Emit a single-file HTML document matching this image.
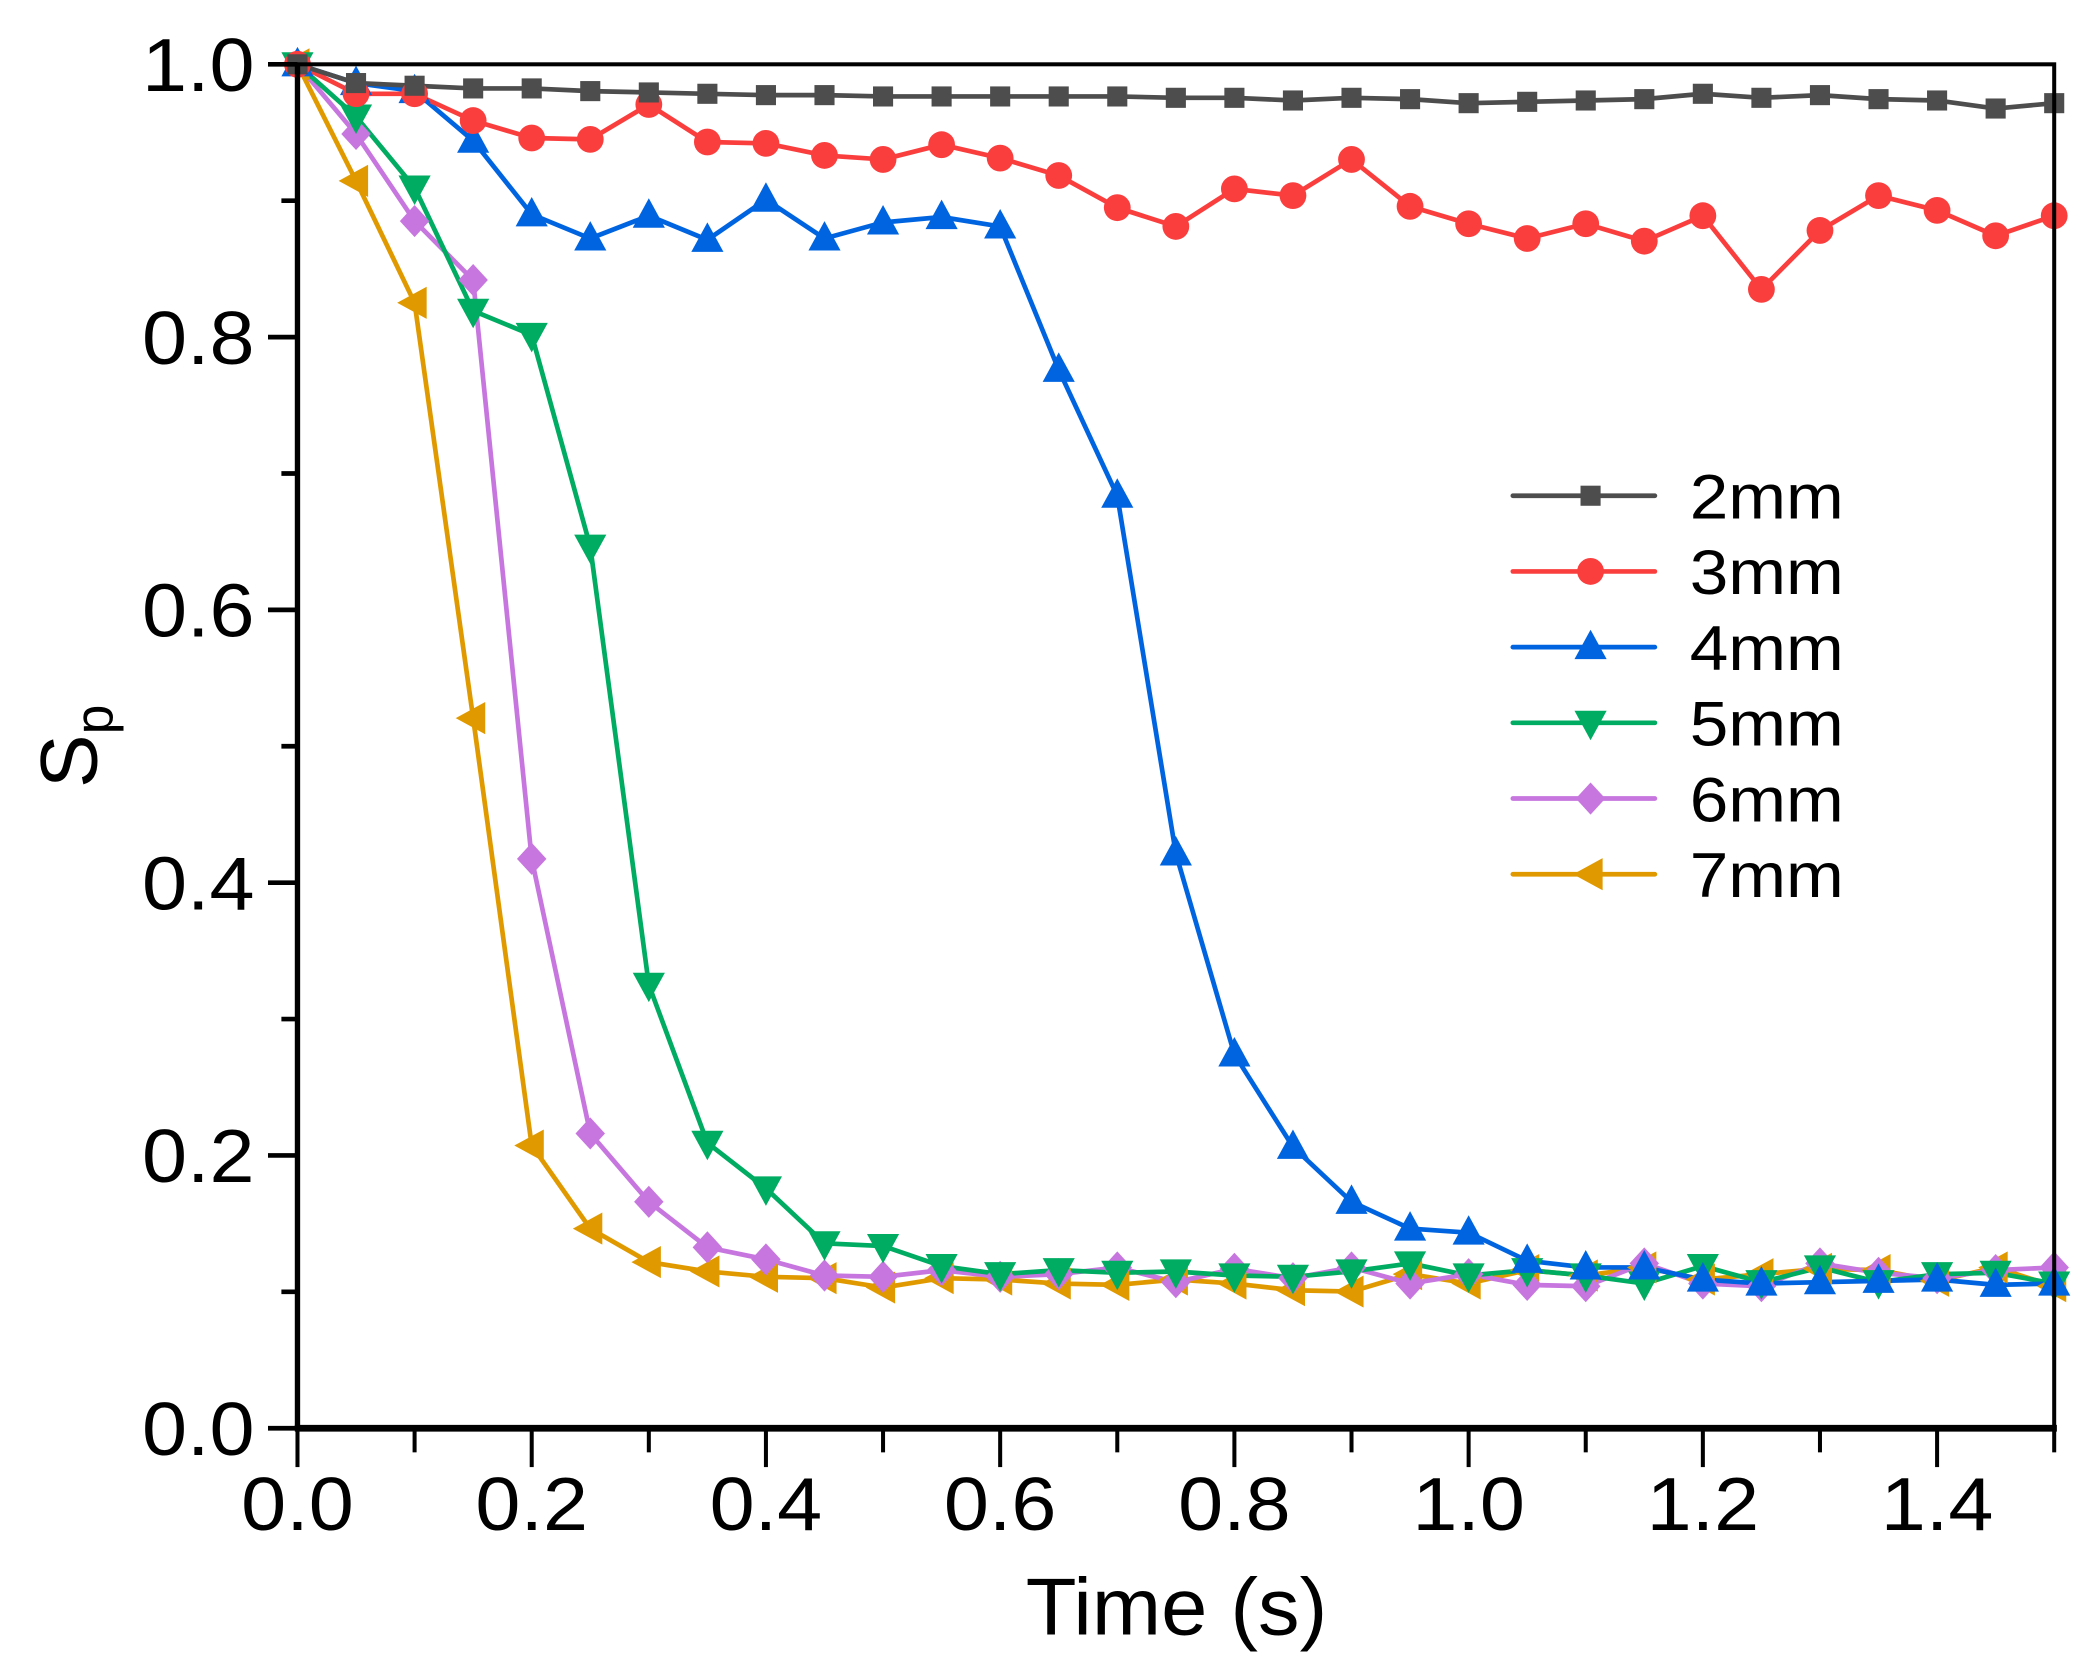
<!DOCTYPE html>
<html><head><meta charset="utf-8"><style>
html,body{margin:0;padding:0;background:#fff;}
svg{display:block;}
text{font-family:"Liberation Sans",Arial,sans-serif;fill:#000;}
</style></head><body>
<svg id="c" xmlns="http://www.w3.org/2000/svg" width="2081" height="1656" viewBox="0 0 1553 1236" preserveAspectRatio="none">
<rect width="1553" height="1236" fill="#fff"/>
<g id="series"></g>
<g id="axes" stroke="#000" fill="none"></g>
<g id="labels"></g>
<g id="legend"></g>
</svg>
<script>
var NS="http://www.w3.org/2000/svg";
function el(tag,attrs,parent,txt){var e=document.createElementNS(NS,tag);for(var k in attrs)e.setAttribute(k,attrs[k]);if(txt!==undefined)e.textContent=txt;parent.appendChild(e);return e;}
var L=222,R=1533,T=48,B=1066;
function X(v){return L+(R-L)*v/1.5;}
var ax=document.getElementById('axes'),lb=document.getElementById('labels');
el('rect',{x:L,y:T,width:R-L,height:B-T,'stroke-width':3},ax);
el('line',{x1:L,y1:T,x2:L,y2:B,'stroke-width':4},ax);
el('line',{x1:L-2,y1:B,x2:R+2,y2:B,'stroke-width':5},ax);
for(var i=0;i<=10;i++){var y=B-(B-T)*i/10;var maj=i%2==0;el('line',{x1:L-(maj?22:12),y1:y,x2:L,y2:y,'stroke-width':3.5},ax);
 if(maj)el('text',{x:190,y:y+20,'font-size':56,'text-anchor':'end','textLength':84,'lengthAdjust':'spacingAndGlyphs'},lb,(i/10).toFixed(1));}
for(var i=0;i<=15;i++){var x=X(i/10);var maj=i%2==0;el('line',{x1:x,y1:B,x2:x,y2:B+(maj?29:18),'stroke-width':3},ax);
 if(maj&&i<15)el('text',{x:x,y:1142,'font-size':56,'text-anchor':'middle','textLength':84,'lengthAdjust':'spacingAndGlyphs'},lb,(i/10).toFixed(1));}
el('text',{x:878,y:1220,'font-size':60,'text-anchor':'middle','textLength':225,'lengthAdjust':'spacingAndGlyphs'},lb,'Time (s)');
var t=el('text',{x:0,y:0,'font-size':60,'text-anchor':'middle',transform:'translate(72,557) rotate(-90)'},lb,'S');
el('tspan',{'font-size':40,dy:12},t,'p');
var D={
g:[48,62,64,66,66,68,69,70,71,71,72,72,72,72,72,73,73,75,73,74,77,76,75,74,70,73,71,74,75,81,77],
r:[48,70,70,90,103,104,78,106,107,116,119,108,118,131,155,169,141,146,119,154,167,178,167,180,161,216,172,146,157,176,161],
b:[48,62,68,105,160,178,161,179,149,178,166,162,169,276,370,637,787,856,897,917,920,941,946,946,955,958,957,956,955,959,958],
gr:[48,87,140,232,250,408,735,853,887,928,930,945,951,948,950,949,952,953,949,943,952,948,952,958,945,957,946,957,951,950,958],
p:[48,100,165,209,641,846,897,931,940,952,953,948,953,951,946,957,947,954,946,958,951,959,960,943,958,960,943,950,954,948,946],
o:[48,135,226,536,855,917,942,949,953,954,961,954,955,958,959,955,958,963,964,951,958,948,952,946,955,951,947,948,956,946,960]};
var S=[
{k:'g',c:'#4d4d4d',m:'sq',n:'2mm'},{k:'r',c:'#fa3e3e',m:'ci',n:'3mm'},{k:'b',c:'#0064e0',m:'tu',n:'4mm'},
{k:'gr',c:'#00ab62',m:'td',n:'5mm'},{k:'p',c:'#c676de',m:'di',n:'6mm'},{k:'o',c:'#e09a00',m:'tl',n:'7mm'}];
function marker(m,x,y,c,g){
 if(m=='sq')el('rect',{x:x-7.5,y:y-7.5,width:15,height:15,fill:c},g);
 else if(m=='ci')el('circle',{cx:x,cy:y,r:10,fill:c},g);
 else if(m=='tu')el('polygon',{points:(x)+','+(y-13)+' '+(x+12)+','+(y+9)+' '+(x-12)+','+(y+9),fill:c},g);
 else if(m=='td')el('polygon',{points:(x)+','+(y+13)+' '+(x+12)+','+(y-9)+' '+(x-12)+','+(y-9),fill:c},g);
 else if(m=='di')el('polygon',{points:x+','+(y-12)+' '+(x+11)+','+y+' '+x+','+(y+12)+' '+(x-11)+','+y,fill:c},g);
 else if(m=='tl')el('polygon',{points:(x-13)+','+y+' '+(x+9)+','+(y-12)+' '+(x+9)+','+(y+12),fill:c},g);
}
var sg=document.getElementById('series');
for(var s=S.length-1;s>=0;s--){var ser=S[s],d=D[ser.k],pts=[];
 for(var i=0;i<d.length;i++)pts.push(X(i*0.05)+','+d[i]);
 el('polyline',{points:pts.join(' '),fill:'none',stroke:ser.c,'stroke-width':3.5},sg);
}
for(var s=S.length-1;s>=0;s--){var ser=S[s],d=D[ser.k];for(var i=0;i<d.length;i++)marker(ser.m,X(i*0.05),d[i],ser.c,sg);}
var lg=document.getElementById('legend');
for(var s=0;s<S.length;s++){var y=370+56.5*s;
 el('line',{x1:1129,y1:y,x2:1235,y2:y,stroke:S[s].c,'stroke-width':3.5,'stroke-linecap':'round'},lg);
 marker(S[s].m,1187,y,S[s].c,lg);
 el('text',{x:1261,y:y+17,'font-size':47,'textLength':115,'lengthAdjust':'spacingAndGlyphs'},lg,S[s].n);}
</script>
</body></html>
